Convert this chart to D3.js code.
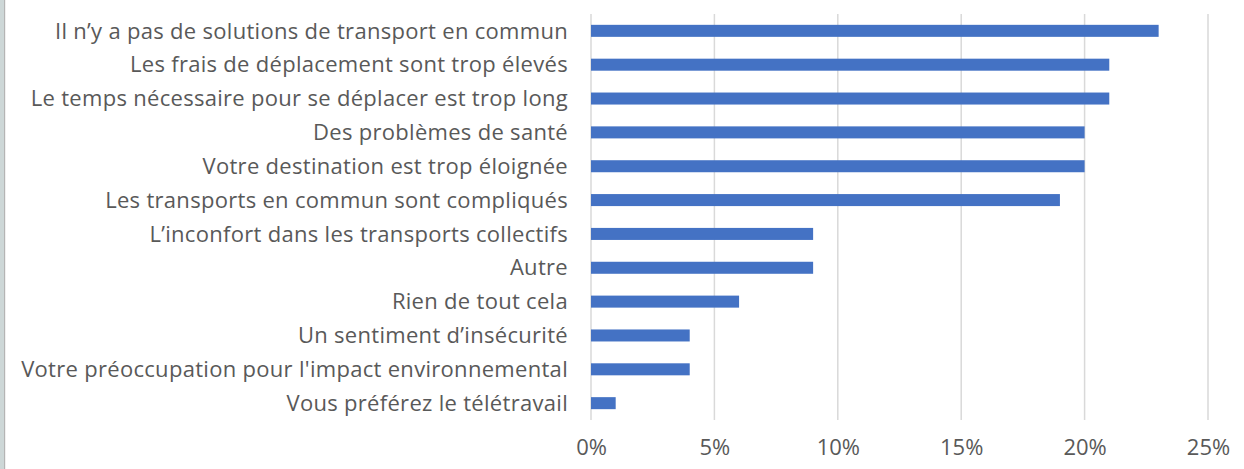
<!DOCTYPE html>
<html>
<head>
<meta charset="utf-8">
<style>
body { margin: 0; background: #fff; }
text { font-family: "Open Sans", sans-serif; fill: #595959; }
</style>
</head>
<body>
<script src="https://cdn.jsdelivr.net/npm/d3@7/dist/d3.min.js"></script>
<script>
var categories = [
  "Il n\u2019y a pas de solutions de transport en commun",
  "Les frais de déplacement sont trop élevés",
  "Le temps nécessaire pour se déplacer est trop long",
  "Des problèmes de santé",
  "Votre destination est trop éloignée",
  "Les transports en commun sont compliqués",
  "L\u2019inconfort dans les transports collectifs",
  "Autre",
  "Rien de tout cela",
  "Un sentiment d\u2019insécurité",
  "Votre préoccupation pour l'impact environnemental",
  "Vous préférez le télétravail"
];
var values = [0.23, 0.21, 0.21, 0.20, 0.20, 0.19, 0.09, 0.09, 0.06, 0.04, 0.04, 0.01];
var ticks = [0, 0.05, 0.10, 0.15, 0.20, 0.25];

var width = 1244, height = 469;
var fontSize = "22px";
var svg = d3.select("body").append("svg")
    .attr("width", width)
    .attr("height", height);

// grey strip at the left edge
svg.append("rect").attr("x", 0).attr("y", 0).attr("width", 4).attr("height", height).attr("fill", "#cdd7d7");
svg.append("rect").attr("x", 4).attr("y", 0).attr("width", 1.2).attr("height", height).attr("fill", "#b4b4b4");

var x = d3.scaleLinear().domain([0, 0.25]).range([591, 1208]);
var y = d3.scaleBand().domain(categories).range([14, 420]).paddingInner(0.645).paddingOuter(0.32);

// gridlines
svg.append("g").selectAll("line")
  .data(ticks)
  .enter().append("line")
    .attr("x1", function(d) { return x(d); })
    .attr("x2", function(d) { return x(d); })
    .attr("y1", 14)
    .attr("y2", 420)
    .attr("stroke", "#d9d9d9")
    .attr("stroke-width", 1.5);

// bars
svg.append("g").selectAll("rect")
  .data(values)
  .enter().append("rect")
    .attr("x", x(0))
    .attr("y", function(d, i) { return y(categories[i]); })
    .attr("width", function(d) { return x(d) - x(0); })
    .attr("height", y.bandwidth())
    .attr("fill", "#4472c4");

// category labels
svg.append("g").selectAll("text")
  .data(categories)
  .enter().append("text")
    .attr("x", 568)
    .attr("y", function(d) { return y(d) + y.bandwidth() / 2; })
    .attr("dy", "0.35em")
    .attr("text-anchor", "end")
    .style("font-size", fontSize)
    .style("letter-spacing", "0.3px")
    .text(function(d) { return d; });

// x axis labels
var xAxis = d3.axisBottom(x).tickValues(ticks).tickFormat(d3.format(".0%")).tickSize(0).tickPadding(0);
var gx = svg.append("g").attr("transform", "translate(0,447)").call(xAxis);
gx.select(".domain").remove();
gx.selectAll("text")
  .attr("dy", "0.35em")
  .style("font-family", "'Open Sans', sans-serif")
  .style("font-size", fontSize)
  .attr("fill", "#595959");
</script>
</body>
</html>
